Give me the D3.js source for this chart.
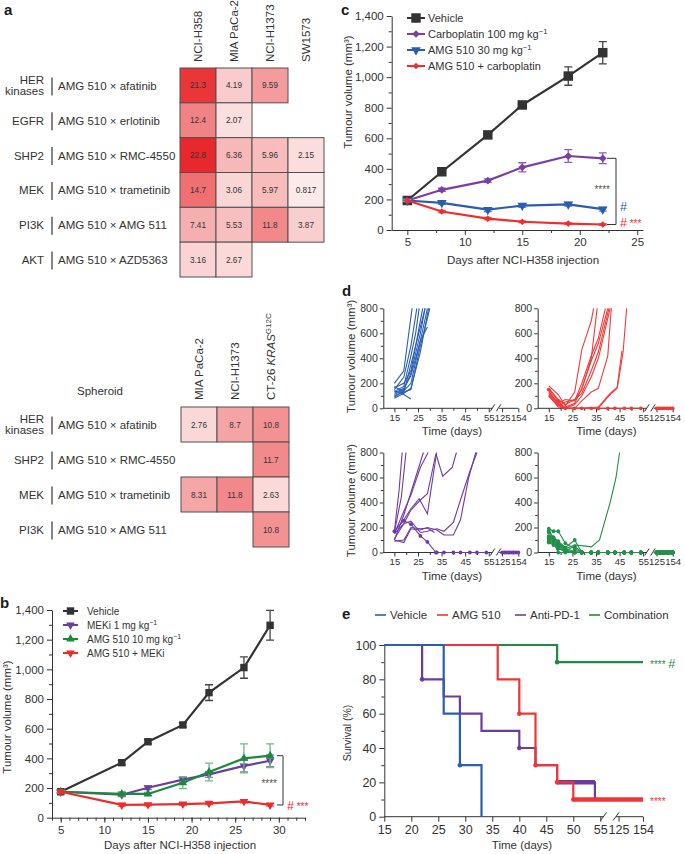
<!DOCTYPE html>
<html>
<head>
<meta charset="utf-8">
<script src="https://cdn.jsdelivr.net/npm/d3@7"></script>
<style>
  body { margin: 0; background: #fff; }
  svg text { font-family: "Liberation Sans", Arial, Helvetica, sans-serif; }
</style>
</head>
<body>
<svg id="fig" width="685" height="854"></svg>
<script>
// ---------- a: combination scores, 2D culture and spheroid
var cellLines = ["NCI-H358", "MIA PaCa-2", "NCI-H1373", "SW1573"];
var targets = ["HER|kinases", "EGFR", "SHP2", "MEK", "PI3K", "AKT"];
var combos = ["AMG 510 × afatinib", "AMG 510 × erlotinib", "AMG 510 × RMC-4550",
              "AMG 510 × trametinib", "AMG 510 × AMG 511", "AMG 510 × AZD5363"];
var scores = [
  [21.3, 4.19, 9.59, null],
  [12.4, 2.07, null, null],
  [22.8, 6.36, 5.96, 2.15],
  [14.7, 3.06, 5.97, 0.817],
  [7.41, 5.53, 11.8, 3.87],
  [3.16, 2.67, null, null]
];
var sphLines = ["MIA PaCa-2", "NCI-H1373", "CT-26 KRAS^G12C"];
var sphTargets = ["HER|kinases", "SHP2", "MEK", "PI3K"];
var sphCombos = ["AMG 510 × afatinib", "AMG 510 × RMC-4550", "AMG 510 × trametinib", "AMG 510 × AMG 511"];
var sphScores = [
  [2.76, 8.7, 10.8],
  [null, null, 11.7],
  [8.31, 11.8, 2.63],
  [null, null, 10.8]
];

// ---------- b: MEKi combination
var daysB = [5, 12, 15, 19, 22, 26, 29];
var namesB = ["Vehicle", "MEKi 1 mg kg^−1", "AMG 510 10 mg kg^−1", "AMG 510 + MEKi"];
var vehB = [175, 371, 512, 625, 843, 1012, 1297];
var vehBErr = [8, 15, 15, 15, 53, 72, 100];
var mekB = [175, 155, 202, 257, 292, 349, 384];
var mekBErr = [8, 12, 12, 18, 20, 40, 40];
var amgB = [175, 160, 160, 236, 308, 400, 418];
var amgBErr = [8, 15, 10, 40, 60, 97, 80];
var comboB = [175, 86, 88, 92, 97, 110, 86];
var comboBErr = [8, 10, 8, 8, 8, 12, 8];

// ---------- c: carboplatin combination
var daysC = [5, 8, 12, 15, 19, 22];
var namesC = ["Vehicle", "Carboplatin 100 mg kg^−1", "AMG 510 30 mg kg^−1", "AMG 510 + carboplatin"];
var vehC = [193, 381, 622, 818, 1007, 1160];
var vehCErr = [8, 12, 20, 22, 60, 73];
var carboC = [193, 263, 323, 410, 484, 469];
var carboCErr = [8, 10, 12, 30, 42, 35];
var amgC = [193, 178, 133, 160, 168, 136];
var amgCErr = [8, 10, 12, 12, 12, 12];
var comboC = [193, 121, 74, 54, 42, 36];
var comboCErr = [6, 8, 8, 6, 5, 5];

var volTicks = [0, 200, 400, 600, 800, 1000, 1200, 1400];
var volMinor = [100, 300, 500, 700, 900, 1100, 1300];

// ---------- d: individual CT-26 tumours [day, mm3]
var vehMice = [
  [[15, 200], [19, 300], [22.5, 800]],
  [[15, 150], [19, 250], [22, 500], [24.5, 800]],
  [[15, 135], [19, 175], [22, 420], [24, 600], [25.5, 800]],
  [[15, 165], [19, 200], [22, 300], [26, 700], [27, 800]],
  [[15, 100], [19, 130], [22, 350], [26, 650], [28, 800]],
  [[15, 120], [19, 160], [22, 260], [26, 540], [29, 800]],
  [[15, 90], [19, 140], [22, 200], [26, 540], [29, 650]],
  [[15, 80], [19, 120], [22, 160], [26, 450], [29.5, 800]],
  [[15, 140], [19, 110], [22, 75]],
  [[15, 110], [19, 150], [22, 280], [26, 600], [28, 800]],
  [[15, 175], [19, 130], [22, 150], [26, 500], [29, 720], [30, 800]]
];
var vehCR = [];
var amgMice = [
  [[15, 180], [19, 110], [22, 20], [26, 130], [29, 470], [33, 700], [34, 800]],
  [[15, 110], [19, 40], [22, 70], [26, 60], [29, 200], [33, 420], [36, 560], [39, 800]],
  [[15, 140], [19, 30], [22, 10], [26, 40], [29, 160], [33, 380], [36, 520], [40, 800]],
  [[15, 100], [19, 20], [22, 50], [26, 70], [29, 120], [33, 300], [36, 450], [40.5, 800]],
  [[15, 120], [19, 50], [22, 0], [26, 30], [29, 100], [33, 250], [36, 400], [41, 800]],
  [[15, 105], [19, 10], [22, 0], [26, 0], [29, 60], [33, 130], [36, 160], [40, 420], [41.5, 800]],
  [[15, 130], [19, 30], [22, 0], [29, 0], [36, 0], [40, 90], [44, 160], [46.5, 450], [48, 800]],
  [[15, 95], [19, 20], [22, 0], [29, 0], [36, 10], [41, 120], [44, 170], [46, 460]],
  [[15, 150], [19, 60], [22, 0], [26, 0]],
  [[15, 160], [19, 70], [22, 30], [26, 70], [29, 150], [33, 400], [35.5, 800]]
];
var amgCR = [8];
var pd1Mice = [
  [[15, 170], [17, 500], [18.3, 800]],
  [[15, 160], [18, 450], [19.9, 800]],
  [[15, 100], [19, 300], [22, 480], [27.3, 800]],
  [[15, 150], [19, 330], [22, 460], [26, 680], [29.3, 800]],
  [[15, 170], [19, 260], [22, 350], [25.5, 430], [29, 310], [32.9, 800]],
  [[15, 110], [19, 230], [22, 340], [26, 420], [29, 470], [32.6, 790], [35.5, 610], [39.5, 680], [41.3, 800]],
  [[15, 100], [19, 80], [22, 190], [26, 180], [29, 200], [33, 180], [36, 140], [40, 140], [43, 260], [46.5, 600], [49.5, 800]],
  [[15, 150], [19, 230], [22, 250], [26, 160], [29, 170], [33, 190], [36, 170], [40, 240], [43, 420], [47, 650], [50, 800]],
  [[15, 170], [19, 255], [22, 227], [26, 133], [29, 85], [32.6, 0]],
  [[15, 90], [19, 100], [22, 200], [26, 190], [29, 195], [32, 160]]
];
var pd1CR = [8];
var comboMice = [
  [[15, 190], [17, 170], [19, 170], [22, 75], [26, 30], [29, 0]],
  [[15, 175], [17, 120], [19, 90], [22, 40], [26, 100], [29, 0]],
  [[15, 160], [17, 110], [19, 70], [22, 20], [26, 0]],
  [[15, 140], [17, 110], [19, 80], [22, 30], [26, 60], [29, 55], [33, 45], [36.5, 100], [41, 400], [43.5, 600], [45, 800]],
  [[15, 120], [17, 100], [19, 50], [22, 10], [26, 0]],
  [[15, 100], [17, 120], [19, 70], [22, 30], [26, 10], [29, 0]],
  [[15, 80], [17, 60], [19, 40], [22, 0]],
  [[15, 110], [17, 80], [19, 0]],
  [[15, 90], [17, 70], [19, 60], [22, 20], [26, 0]],
  [[15, 130], [17, 90], [19, 30], [22, 15], [26, 50], [29, 0]]
];
var comboCR = [0, 1, 2, 4, 5, 6, 7, 8, 9];
var zeroDays = [29, 33, 36, 40, 43, 47, 50, 54];
var lateDays = [125, 129, 132, 136, 139, 143, 146, 150, 154];
var dXTicks = [15, 25, 35, 45, 55, 125, 154];
var dXMinor = [20, 30, 40, 50];
var dYTicks = [0, 200, 400, 600, 800];
var dYMinor = [100, 300, 500, 700];

// ---------- e: survival (%)
var survNames = ["Vehicle", "AMG 510", "Anti-PD-1", "Combination"];
var survVeh = [[15, 100], [26, 60], [29, 30], [33, 0]];
var survAmg = [[15, 100], [36, 80], [40, 60], [43, 30], [47, 20], [50, 10], [154, 10]];
var survPd1 = [[15, 100], [22, 80], [26, 70], [29, 60], [33, 50], [40, 40], [43, 30], [47, 20], [54, 10], [55, 10]];
var survCombo = [[15, 100], [47, 90], [154, 90]];
var censVeh = [[29, 30]];
var censAmg = [[40, 60], [43, 30], [47, 20], [50, 10]];
var censPd1 = [[22, 80], [40, 40]];
var censCombo = [[47, 90]];
var heavyAmg = [[50, 10], [154, 10]];
var heavyPd1 = [[47, 20], [54, 20]];
var eXTicks = [15, 20, 25, 30, 35, 40, 45, 50, 55, 125, 154];
var eYTicks = [0, 20, 40, 60, 80, 100];
var eYMinor = [10, 30, 50, 70, 90];

var INK = "#333";
var svg = d3.select("#fig");

function txt(g, x, y, s, size, fill) {
  return g.append("text").attr("x", x).attr("y", y).attr("font-size", size)
    .attr("fill", fill || INK).text(s);
}

// "abc^sup" -> base text plus superscript tspan
function supText(t, s, size) {
  var p = s.split("^");
  t.append("tspan").text(p[0]);
  if (p.length > 1) t.append("tspan").attr("font-size", size * 0.7).attr("dy", -size * 0.4).text(p[1]);
}

function axis(g, gen, size) {
  g.call(gen).attr("font-size", size).attr("color", INK);
  return g;
}

function letter(t, x, y) {
  svg.append("text").attr("x", x).attr("y", y).attr("font-size", 15)
    .attr("font-weight", "bold").attr("fill", "#1a1a1a").text(t);
}

// ================= a =================
var heat = d3.scaleLinear().domain([0, 23]).range(["#fdf0f0", "#e8262a"]);

function heatmap(cols, groups, rows, vals, xr, yr, headY) {
  var g = svg.append("g");
  var x = d3.scaleBand().domain(d3.range(cols.length)).range(xr);
  var y = d3.scaleBand().domain(d3.range(rows.length)).range(yr);
  var cells = [];
  vals.forEach(function (row, i) {
    row.forEach(function (v, j) { if (v !== null) cells.push({ i: i, j: j, v: v }); });
  });
  g.selectAll("rect").data(cells).enter().append("rect")
    .attr("x", function (d) { return x(d.j); })
    .attr("y", function (d) { return y(d.i); })
    .attr("width", x.bandwidth()).attr("height", y.bandwidth())
    .attr("fill", function (d) { return heat(d.v); })
    .attr("stroke", "#505050").attr("stroke-width", 1);
  g.selectAll("text.v").data(cells).enter().append("text")
    .attr("x", function (d) { return x(d.j) + x.bandwidth() / 2; })
    .attr("y", function (d) { return y(d.i) + y.bandwidth() / 2 + 3; })
    .attr("text-anchor", "middle").attr("font-size", 8.2).attr("fill", "#333")
    .text(function (d) { return d.v; });

  cols.forEach(function (c, j) {
    var t = g.append("text").attr("font-size", 11.5).attr("fill", INK)
      .attr("transform", "translate(" + (x(j) + x.bandwidth() / 2 + 4) + "," + headY + ") rotate(-90)");
    var p = c.split("^");
    if (p.length > 1) {
      var base = p[0].split(" ");
      t.append("tspan").text(base[0] + " ");
      t.append("tspan").attr("font-style", "italic").text(base[1]);
      t.append("tspan").attr("font-size", 8).attr("dy", -4.5).text(p[1]);
    } else {
      t.text(c);
    }
  });

  rows.forEach(function (c, i) {
    var cy = y(i) + y.bandwidth() / 2;
    var lines = groups[i].split("|");
    lines.forEach(function (s, k) {
      txt(g, 44, lines.length > 1 ? cy - 1.5 + k * 11 : cy + 4.5, s, 11.5).attr("text-anchor", "end");
    });
    g.append("line").attr("x1", 52).attr("x2", 52).attr("y1", cy - 8).attr("y2", cy + 10)
      .attr("stroke", INK).attr("stroke-width", 1.2);
    txt(g, 58, cy + 4.5, c, 11.5);
  });
}

letter("a", 4, 15);
heatmap(cellLines, targets, combos, scores, [180, 324], [68, 277], 62);
txt(svg, 100, 395, "Spheroid", 11.5).attr("text-anchor", "middle");
heatmap(sphLines, sphTargets, sphCombos, sphScores, [181, 289], [407, 547], 400);

// ================= b & c =================
function growthPanel(o) {
  var g = svg.append("g");
  var x = o.x, y = o.y;
  var x0 = x.range()[0], y0 = y.range()[0];
  axis(g.append("g").attr("transform", "translate(" + x0 + ",0)"),
    d3.axisLeft(y).tickValues(volTicks).tickFormat(d3.format(",")).tickSize(5).tickSizeOuter(0).tickPadding(3), 11.5);
  axis(g.append("g").attr("transform", "translate(" + x0 + ",0)"),
    d3.axisLeft(y).tickValues(volMinor).tickFormat("").tickSize(3), 11.5).select(".domain").remove();
  axis(g.append("g").attr("transform", "translate(0," + y0 + ")"),
    d3.axisBottom(x).tickValues(o.xTicks).tickSize(5).tickSizeOuter(0).tickPadding(3), 11.5);
  axis(g.append("g").attr("transform", "translate(0," + y0 + ")"),
    d3.axisBottom(x).tickValues(o.xMinor).tickFormat("").tickSize(3), 11.5).select(".domain").remove();

  txt(g, o.xTitle[0], o.xTitle[1], "Days after NCI-H358 injection", 11.5).attr("text-anchor", "middle");
  var yt = g.append("text").attr("font-size", 11.5).attr("fill", INK).attr("text-anchor", "middle")
    .attr("transform", "translate(" + o.yTitle[0] + "," + o.yTitle[1] + ") rotate(-90)");
  yt.text("Tumour volume (mm³)");

  o.series.forEach(function (s) {
    var days = o.days;
    g.append("g").selectAll("path").data(s.v).enter().append("path")
      .attr("d", function (d, i) {
        var cx = x(days[i]), t = y(d + s.e[i]), b = y(d - s.e[i]);
        return "M" + (cx - 4) + "," + t + "H" + (cx + 4) + "M" + cx + "," + t + "V" + b +
               "M" + (cx - 4) + "," + b + "H" + (cx + 4);
      })
      .attr("stroke", s.ec).attr("stroke-width", 1.3).attr("fill", "none");
    var line = d3.line().x(function (d, i) { return x(days[i]); }).y(function (d) { return y(d); });
    g.append("path").datum(s.v).attr("d", line).attr("fill", "none")
      .attr("stroke", s.c).attr("stroke-width", 2.2);
    g.append("g").selectAll("path").data(s.v).enter().append("path")
      .attr("d", d3.symbol().type(s.sym).size(s.size))
      .attr("transform", function (d, i) {
        return "translate(" + x(days[i]) + "," + y(d) + ")" + (s.rot ? " rotate(" + s.rot + ")" : "");
      })
      .attr("fill", s.c);
  });

  // legend
  o.series.forEach(function (s, k) {
    var ly = o.leg[1] + k * o.leg[3];
    g.append("line").attr("x1", o.leg[0]).attr("x2", o.leg[0] + o.leg[2]).attr("y1", ly).attr("y2", ly)
      .attr("stroke", s.c).attr("stroke-width", 2);
    g.append("path").attr("d", d3.symbol().type(s.sym).size(s.size))
      .attr("transform", "translate(" + (o.leg[0] + o.leg[2] / 2) + "," + ly + ")" + (s.rot ? " rotate(" + s.rot + ")" : ""))
      .attr("fill", s.c);
    var t = g.append("text").attr("x", o.leg[0] + o.leg[2] + o.leg[5]).attr("y", ly + o.leg[4] * 0.36)
      .attr("font-size", o.leg[4]).attr("fill", INK);
    supText(t, s.name, o.leg[4]);
  });
  return g;
}

letter("b", 0, 608);
var xb = d3.scaleLinear().domain([4, 33]).range([52, 305]);
var yb = d3.scaleLinear().domain([0, 1400]).range([817.7, 610]);
var gb = growthPanel({
  x: xb, y: yb, days: daysB,
  xTicks: [5, 10, 15, 20, 25, 30], xMinor: d3.range(4, 34),
  xTitle: [180, 849], yTitle: [11, 717],
  leg: [63, 611, 15, 14, 10, 9],
  series: [
    { name: namesB[0], v: vehB, e: vehBErr, c: "#333", ec: "#444", sym: d3.symbolSquare, size: 55 },
    { name: namesB[1], v: mekB, e: mekBErr, c: "#6b3fa0", ec: "#9377c2", sym: d3.symbolTriangle, size: 32, rot: 180 },
    { name: namesB[2], v: amgB, e: amgBErr, c: "#1c8a3c", ec: "#6bbb84", sym: d3.symbolTriangle, size: 32 },
    { name: namesB[3], v: comboB, e: comboBErr, c: "#ee2b2b", ec: "#f36a6a", sym: d3.symbolTriangle, size: 32, rot: 180 }
  ]
});
gb.append("path").attr("d", "M277," + yb(418) + "H283V" + yb(86) + "H277")
  .attr("fill", "none").attr("stroke", INK).attr("stroke-width", 1);
txt(gb, 277, 787, "****", 10, "#555").attr("text-anchor", "end");
var sb = txt(gb, 287, 810, "#", 12.5, "#ee2b2b");
sb.append("tspan").attr("font-size", 10).text(" ***");

letter("c", 341, 15);
var xc = d3.scaleLinear().domain([3.64, 25.5]).range([391.7, 643]);
var yc = d3.scaleLinear().domain([0, 1400]).range([230, 16]);
var gc = growthPanel({
  x: xc, y: yc, days: daysC,
  xTicks: [5, 10, 15, 20, 25], xMinor: [7.5, 12.5, 17.5, 22.5],
  xTitle: [523, 264], yTitle: [351.5, 92],
  leg: [407, 18, 18, 16, 11, 3],
  series: [
    { name: namesC[0], v: vehC, e: vehCErr, c: "#333", ec: "#444", sym: d3.symbolSquare, size: 90 },
    { name: namesC[1], v: carboC, e: carboCErr, c: "#7a3fa6", ec: "#8f60b8", sym: d3.symbolSquare, size: 30, rot: 45 },
    { name: namesC[2], v: amgC, e: amgCErr, c: "#2a5db0", ec: "#5a85c8", sym: d3.symbolTriangle, size: 40, rot: 180 },
    { name: namesC[3], v: comboC, e: comboCErr, c: "#f02c2c", ec: "#f36a6a", sym: d3.symbolSquare, size: 22, rot: 45 }
  ]
});
gc.append("path").attr("d", "M607," + yc(469) + "H616V" + yc(36) + "H607")
  .attr("fill", "none").attr("stroke", INK).attr("stroke-width", 1);
txt(gc, 610, 193, "****", 10, "#555").attr("text-anchor", "end");
txt(gc, 620, 211, "#", 12.5, "#2a5db0");
var sc = txt(gc, 620, 227, "#", 12.5, "#f02c2c");
sc.append("tspan").attr("font-size", 10).text(" ***");

// ================= d =================
function spaghetti(x0, y0, mice, cr, color, yTitle) {
  var g = svg.append("g");
  var x = d3.scaleLinear().domain([10.3, 56.5, 120, 154]).range([x0, x0 + 109, x0 + 116, x0 + 135]);
  var y = d3.scaleLinear().domain([0, 800]).range([y0, y0 - 100]);
  axis(g.append("g").attr("transform", "translate(" + x0 + ",0)"),
    d3.axisLeft(y).tickValues(dYTicks).tickSize(3.5).tickSizeOuter(0).tickPadding(2), 10.5);
  axis(g.append("g").attr("transform", "translate(" + x0 + ",0)"),
    d3.axisLeft(y).tickValues(dYMinor).tickFormat("").tickSize(2.5), 10.5).select(".domain").remove();
  var xa = axis(g.append("g").attr("transform", "translate(0," + y0 + ")"),
    d3.axisBottom(x).tickValues(dXTicks).tickSize(4).tickPadding(2), 9.5);
  xa.select(".domain").remove();
  axis(g.append("g").attr("transform", "translate(0," + y0 + ")"),
    d3.axisBottom(x).tickValues(dXMinor).tickFormat("").tickSize(2.5), 9.5).select(".domain").remove();
  [[x0, x0 + 109], [x0 + 116, x0 + 135]].forEach(function (s) {
    g.append("line").attr("x1", s[0]).attr("x2", s[1]).attr("y1", y0).attr("y2", y0)
      .attr("stroke", INK).attr("stroke-width", 1);
  });
  [x0 + 109.5, x0 + 115.5].forEach(function (bx) {
    g.append("line").attr("x1", bx - 2.5).attr("y1", y0 + 3).attr("x2", bx + 2).attr("y2", y0 - 4)
      .attr("stroke", INK).attr("stroke-width", 1);
  });
  txt(g, x0 + 68.7, y0 + 27, "Time (days)", 11.5).attr("text-anchor", "middle");
  if (yTitle) {
    g.append("text").attr("font-size", 11.5).attr("fill", INK).attr("text-anchor", "middle")
      .attr("transform", "translate(355," + (y0 - 52) + ") rotate(-90)").text("Tumour volume (mm³)");
  }

  var line = d3.line().x(function (d) { return x(d[0]); }).y(function (d) { return y(d[1]); });
  mice.forEach(function (m, k) {
    var pts = m.slice();
    var isCR = cr.indexOf(k) >= 0;
    if (isCR) {
      var last = pts[pts.length - 1][0];
      zeroDays.forEach(function (dd) { if (dd > last) pts.push([dd, 0]); });
    }
    g.append("path").datum(pts).attr("d", line).attr("fill", "none")
      .attr("stroke", color).attr("stroke-width", 1.1);
    if (isCR) {
      var late = lateDays.map(function (dd) { return [dd, 0]; });
      g.append("path").datum(late).attr("d", line).attr("fill", "none")
        .attr("stroke", color).attr("stroke-width", 1.1);
      g.append("g").selectAll("circle").data(pts.concat(late)).enter().append("circle")
        .attr("cx", function (d) { return x(d[0]); }).attr("cy", function (d) { return y(d[1]); })
        .attr("r", 1.9).attr("fill", color);
    }
  });
}

letter("d", 342, 296);
spaghetti(383.3, 408.3, vehMice, vehCR, "#2a5fb3", true);
spaghetti(537.7, 408.3, amgMice, amgCR, "#f03a3a", false);
spaghetti(383.3, 552.5, pd1Mice, pd1CR, "#6f3ba3", true);
spaghetti(537.7, 552.5, comboMice, comboCR, "#23904a", false);

// ================= e =================
letter("e", 342, 619);
var ge = svg.append("g");
var xe = d3.scaleLinear().domain([15, 55.5, 122, 154]).range([384.3, 603, 616, 643]);
var ye = d3.scaleLinear().domain([0, 100]).range([816.7, 645]);
axis(ge.append("g").attr("transform", "translate(384.3,0)"),
  d3.axisLeft(ye).tickValues(eYTicks).tickSize(5).tickSizeOuter(0).tickPadding(3), 12.5);
axis(ge.append("g").attr("transform", "translate(384.3,0)"),
  d3.axisLeft(ye).tickValues(eYMinor).tickFormat("").tickSize(3), 12.5).select(".domain").remove();
var xea = axis(ge.append("g").attr("transform", "translate(0,816.7)"),
  d3.axisBottom(xe).tickValues(eXTicks).tickSize(5).tickPadding(3), 12.5);
xea.select(".domain").remove();
[[384.3, 603], [616, 643]].forEach(function (s) {
  ge.append("line").attr("x1", s[0]).attr("x2", s[1]).attr("y1", 816.7).attr("y2", 816.7)
    .attr("stroke", INK).attr("stroke-width", 1);
});
[603.5, 616].forEach(function (bx) {
  ge.append("line").attr("x1", bx - 3).attr("y1", 820.5).attr("x2", bx + 3).attr("y2", 812.5)
    .attr("stroke", INK).attr("stroke-width", 1);
});
txt(ge, 522, 849, "Time (days)", 11.5).attr("text-anchor", "middle");
ge.append("text").attr("font-size", 10.5).attr("fill", INK).attr("text-anchor", "middle")
  .attr("transform", "translate(350.5,733) rotate(-90)").text("Survival (%)");

var survColors = ["#2b5fae", "#ef3535", "#6b3b9f", "#1f8b46"];
var step = d3.line().curve(d3.curveStepAfter)
  .x(function (d) { return xe(d[0]); }).y(function (d) { return ye(d[1]); });
var straight = d3.line().x(function (d) { return xe(d[0]); }).y(function (d) { return ye(d[1]); });
var survSets = [
  { s: survCombo, c: censCombo, h: null, col: survColors[3] },
  { s: survPd1, c: censPd1, h: heavyPd1, col: survColors[2] },
  { s: survAmg, c: censAmg, h: heavyAmg, col: survColors[1] },
  { s: survVeh, c: censVeh, h: null, col: survColors[0] }
];
survSets.forEach(function (o) {
  ge.append("path").datum(o.s).attr("d", step).attr("fill", "none")
    .attr("stroke", o.col).attr("stroke-width", 2.2);
  if (o.h) ge.append("path").datum(o.h).attr("d", straight).attr("fill", "none")
    .attr("stroke", o.col).attr("stroke-width", 4.5);
  ge.selectAll(null).data(o.c).enter().append("circle")
    .attr("cx", function (d) { return xe(d[0]); }).attr("cy", function (d) { return ye(d[1]); })
    .attr("r", 2.3).attr("fill", o.col);
});
var sg = txt(ge, 650, ye(90) + 5.5, "**** ", 10, survColors[3]);
sg.append("tspan").attr("font-size", 12.5).text("#");
txt(ge, 650, ye(10) + 5.5, "****", 10, survColors[1]);

var legX = [375, 437, 515, 589];
survNames.forEach(function (n, k) {
  ge.append("line").attr("x1", legX[k]).attr("x2", legX[k] + 11).attr("y1", 615).attr("y2", 615)
    .attr("stroke", survColors[k]).attr("stroke-width", 1.6);
  txt(ge, legX[k] + 15, 619, n, 11.5);
});
</script>
</body>
</html>
